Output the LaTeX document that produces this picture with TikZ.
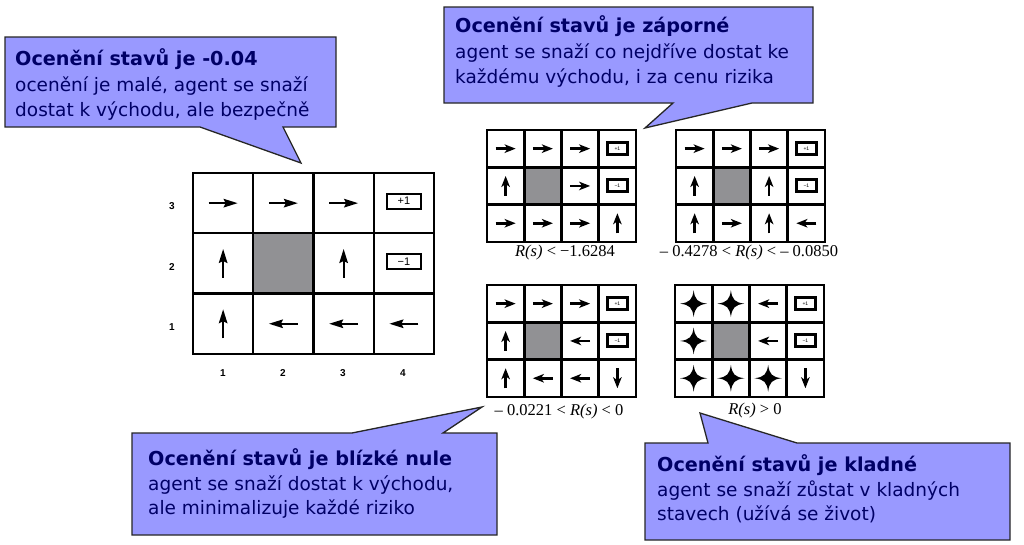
\documentclass[tikz,border=0pt]{standalone}
\usepackage{fontspec}
\newfontfamily\calfont{DejaVu Sans}
\newfontfamily\serfont{Liberation Serif}
\newfontfamily\helfont{Liberation Sans}
\usetikzlibrary{arrows.meta}
\definecolor{calfill}{RGB}{153,153,255}
\definecolor{navy}{RGB}{0,0,102}
\definecolor{wallgray}{RGB}{145,145,148}
\tikzset{
 callout/.style={fill=calfill, draw=black!85, line width=1.3pt, line join=miter},
 ctitle/.style={anchor=base west, inner sep=0, text=navy, font=\calfont\bfseries\fontsize{19.2}{20}\selectfont},
 ctext/.style={anchor=base west, inner sep=0, text=navy, font=\calfont\fontsize{18.5}{20}\selectfont},
 bigcell/.style={draw, line width=2.3pt, minimum width=60.25pt, minimum height=60.3pt, inner sep=0, fill=white},
 smallcell/.style={draw, line width=2.6pt, minimum width=37.25pt, minimum height=37.3pt, inner sep=0, fill=white},
 barr/.style={line width=2pt, -{Stealth[length=14pt,width=8.5pt,inset=2pt]}},
 sarr/.style={line width=2.5pt, -{Stealth[length=11pt,width=8.5pt,inset=3pt]}},
 bigR/.pic={\draw[barr] (-14.5,0) -- (14.5,0);},
 bigL/.pic={\draw[barr] (14.5,0) -- (-14.5,0);},
 bigU/.pic={\draw[barr] (0,14.5) -- (0,-14.5);},
 smR/.pic={\draw[sarr] (-10,0) -- (10,0);},
 smL/.pic={\draw[sarr] (10,0) -- (-10,0);},
 smU/.pic={\draw[sarr] (0,10) -- (0,-10);},
 smD/.pic={\draw[sarr] (0,-10) -- (0,10);},
 smS/.pic={\fill (0,-13.5) .. controls (1.2,-4) and (4,-1.2) .. (13.5,0) .. controls (4,1.2) and (1.2,4) .. (0,13.5) .. controls (-1.2,4) and (-4,1.2) .. (-13.5,0) .. controls (-4,-1.2) and (-1.2,-4) .. (0,-13.5) -- cycle;},
 bigterm/.style={draw, line width=2.2pt, minimum width=34pt, minimum height=15pt, inner sep=0, fill=white, font=\helfont\fontsize{11}{11}\selectfont},
 smterm/.style={draw, line width=3pt, minimum width=20pt, minimum height=12pt, inner sep=0, fill=white, font=\helfont\fontsize{5}{5}\selectfont},
 axlab/.style={inner sep=0, font=\helfont\bfseries\fontsize{10}{10}\selectfont},
 rlab/.style={anchor=base, inner sep=0, font=\serfont\fontsize{16.5}{18}\selectfont},
}
\newcommand\mkgrid[6]{%
 \foreach \c in {1,...,4}{\foreach \r in {1,2,3}{%
   \node[#4] (#1-\c-\r) at ({#2+(\c-0.5)*#5},{#3+(3.5-\r)*#6}) {};}}%
 \node[#4, fill=wallgray] (#1-wall) at (#1-2-2) {};}
\begin{document}
\begin{tikzpicture}[x=1pt,y=-1pt]
\useasboundingbox (0,0) rectangle (1024,544);
\fill[white] (0,0) rectangle (1024,544);

% ---- big grid
\mkgrid{A}{193}{173}{bigcell}{60.25}{60.3}
\pic at (A-1-3) {bigR}; \pic at (A-2-3) {bigR}; \pic at (A-3-3) {bigR};
\node[bigterm] (A-t1) at ([yshift=2pt]A-4-3) {+1};
\pic at (A-1-2) {bigU}; \pic at (A-3-2) {bigU};
\node[bigterm] (A-t2) at ([yshift=2pt]A-4-2) {−1};
\pic at (A-1-1) {bigU}; \pic at (A-2-1) {bigL}; \pic at (A-3-1) {bigL}; \pic at (A-4-1) {bigL};
\node[axlab] (r3) at (172,206) {3};
\node[axlab] (r2) at (172,267) {2};
\node[axlab] (r1) at (172,327) {1};
\node[axlab] (k1) at (223,373) {1};
\node[axlab] (k2) at (283,373) {2};
\node[axlab] (k3) at (343,373) {3};
\node[axlab] (k4) at (403,373) {4};

% ---- small grid 1
\mkgrid{B}{487}{130}{smallcell}{37.25}{37.3}
\pic at (B-1-3) {smR}; \pic at (B-2-3) {smR}; \pic at (B-3-3) {smR};
\node[smterm] (B-t1) at (B-4-3) {+1};
\pic at (B-1-2) {smU}; \pic at (B-3-2) {smR};
\node[smterm] (B-t2) at (B-4-2) {−1};
\pic at (B-1-1) {smR}; \pic at (B-2-1) {smR}; \pic at (B-3-1) {smR}; \pic at (B-4-1) {smU};
\node[rlab] (B-lab) at (565,256) {{\itshape R(s)} < −1.6284};

% ---- small grid 2
\mkgrid{C}{676}{130}{smallcell}{37.25}{37.3}
\pic at (C-1-3) {smR}; \pic at (C-2-3) {smR}; \pic at (C-3-3) {smR};
\node[smterm] (C-t1) at (C-4-3) {+1};
\pic at (C-1-2) {smU}; \pic at (C-3-2) {smU};
\node[smterm] (C-t2) at (C-4-2) {−1};
\pic at (C-1-1) {smU}; \pic at (C-2-1) {smR}; \pic at (C-3-1) {smU}; \pic at (C-4-1) {smL};
\node[rlab] (C-lab) at (749,256) {– 0.4278 < {\itshape R(s)} < – 0.0850};

% ---- small grid 3
\mkgrid{D}{487}{285}{smallcell}{37.25}{37.3}
\pic at (D-1-3) {smR}; \pic at (D-2-3) {smR}; \pic at (D-3-3) {smR};
\node[smterm] (D-t1) at (D-4-3) {+1};
\pic at (D-1-2) {smU}; \pic at (D-3-2) {smL};
\node[smterm] (D-t2) at (D-4-2) {−1};
\pic at (D-1-1) {smU}; \pic at (D-2-1) {smL}; \pic at (D-3-1) {smL}; \pic at (D-4-1) {smD};
\node[rlab] (D-lab) at (559,415) {– 0.0221 < {\itshape R(s)} < 0};

% ---- small grid 4
\mkgrid{E}{675}{285}{smallcell}{37.25}{37.3}
\pic at (E-1-3) {smS}; \pic at (E-2-3) {smS}; \pic at (E-3-3) {smL};
\node[smterm] (E-t1) at (E-4-3) {+1};
\pic at (E-1-2) {smS}; \pic at (E-3-2) {smL};
\node[smterm] (E-t2) at (E-4-2) {−1};
\pic at (E-1-1) {smS}; \pic at (E-2-1) {smS}; \pic at (E-3-1) {smS}; \pic at (E-4-1) {smD};
\node[rlab] (E-lab) at (755,414) {{\itshape R(s)} > 0};

% ---- callouts
\draw[callout] (5,37) -- (336,37) -- (336,127) -- (283,127) -- (301,163) -- (200,127) -- (5,127) -- cycle;
\node[ctitle] (c1a) at (15,65) {Ocenění stavů je -0.04};
\node[ctext] (c1b) at (15,91) {ocenění je malé, agent se snaží};
\node[ctext] (c1c) at (15,116) {dostat k východu, ale bezpečně};

\draw[callout] (444,7) -- (813,7) -- (813,103) -- (752,103) -- (645,128) -- (673,103) -- (444,103) -- cycle;
\node[ctitle] (c2a) at (455,32) {Ocenění stavů je záporné};
\node[ctext] (c2b) at (455,58) {agent se snaží co nejdříve dostat ke};
\node[ctext] (c2c) at (455,83) {každému východu, i za cenu rizika};

\draw[callout] (132,433) -- (352,433) -- (482,407) -- (443,433) -- (497,433) -- (497,535) -- (132,535) -- cycle;
\node[ctitle] (c3a) at (148,465) {Ocenění stavů je blízké nule};
\node[ctext] (c3b) at (148,490) {agent se snaží dostat k východu,};
\node[ctext] (c3c) at (148,514) {ale minimalizuje každé riziko};

\draw[callout] (645,443) -- (708,443) -- (700,413) -- (797,443) -- (1010,443) -- (1010,540) -- (645,540) -- cycle;
\node[ctitle] (c4a) at (657,471) {Ocenění stavů je kladné};
\node[ctext] (c4b) at (657,496) {agent se snaží zůstat v kladných};
\node[ctext] (c4c) at (657,520) {stavech (užívá se život)};
\end{tikzpicture}
\end{document}
